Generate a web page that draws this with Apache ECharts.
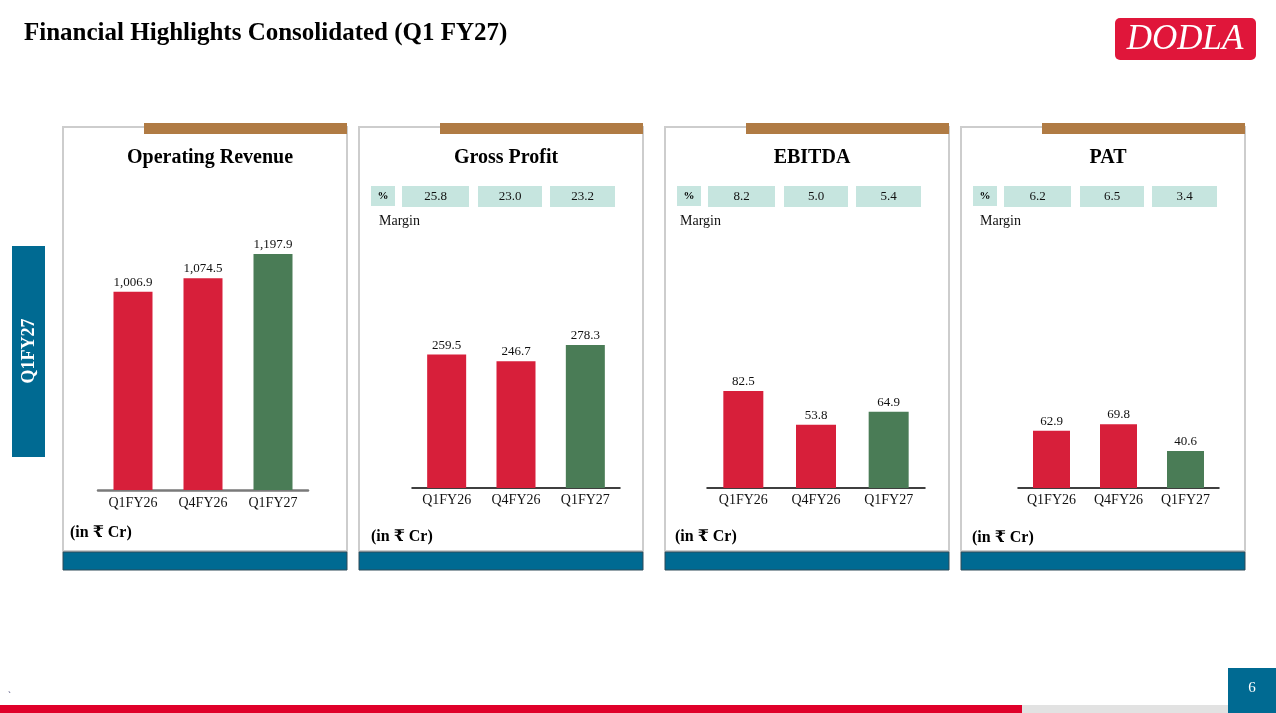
<!DOCTYPE html>
<html>
<head>
<meta charset="utf-8">
<script src="https://cdn.jsdelivr.net/npm/echarts@6/dist/echarts.min.js"></script>
<style>
  html, body { margin: 0; padding: 0; background: #fff; }
  #main { width: 1276px; height: 713px; }
</style>
</head>
<body>
<div id="main"></div>
<script>
// data
var categories = ['Q1FY26', 'Q4FY26', 'Q1FY27'];
var operatingRevenue = [1006.9, 1074.5, 1197.9];
var grossProfit = [259.5, 246.7, 278.3];
var ebitda = [82.5, 53.8, 64.9];
var pat = [62.9, 69.8, 40.6];
var grossMargin = [25.8, 23.0, 23.2];
var ebitdaMargin = [8.2, 5.0, 5.4];
var patMargin = [6.2, 6.5, 3.4];
var panelTitles = ['Operating Revenue', 'Gross Profit', 'EBITDA', 'PAT'];

var SERIF = "'Liberation Serif', 'DejaVu Serif', 'Noto Sans', serif";
var RED = '#d71f3a', GREEN = '#4a7c56', BLUE = '#006a92', BROWN = '#b07b44', TEAL = '#c6e5df';

// panel layout
var panelX = [63, 359, 665, 961];
var panelW = 284;
var grids = [
  { left: 98, width: 210, top: 230, height: 260 },
  { left: 412, width: 208, top: 231, height: 257 },
  { left: 707, width: 218, top: 253, height: 235 },
  { left: 1018, width: 201, top: 260, height: 228 }
];
var yMax = [1320, 500, 200, 250];
var barW = [39, 39, 40, 37];
var values = [operatingRevenue, grossProfit, ebitda, pat];
var margins = [null, grossMargin, ebitdaMargin, patMargin];
var marginTextX = [0, 20, 15, 19];
var unitX = [7, 12, 10, 11];
var unitY = [533, 537, 537, 538];

function fmt(v) {
  return v.toLocaleString('en-US', { minimumFractionDigits: 1, maximumFractionDigits: 1 });
}

var graphics = [];

// title
graphics.push({ type: 'text', x: 24, y: 34, style: { text: 'Financial Highlights Consolidated (Q1 FY27)', font: 'bold 25px ' + SERIF, fill: '#000', textVerticalAlign: 'middle' } });

// logo
graphics.push({ type: 'rect', shape: { x: 1115, y: 18, width: 141, height: 42, r: 5 }, style: { fill: '#e0163a' } });
graphics.push({ type: 'text', x: 1185, y: 40, style: { text: 'DODLA', font: 'italic 35px ' + SERIF, fill: '#fff', textAlign: 'center', textVerticalAlign: 'middle' } });

// left tag
graphics.push({ type: 'rect', shape: { x: 12, y: 246, width: 33, height: 211 }, style: { fill: BLUE } });
graphics.push({ type: 'text', x: 29, y: 351, rotation: Math.PI / 2, style: { text: 'Q1FY27', font: 'bold 18px ' + SERIF, fill: '#fff', textAlign: 'center', textVerticalAlign: 'middle' } });

panelX.forEach(function (px, i) {
  graphics.push({ type: 'rect', z: -1, shape: { x: px, y: 127, width: panelW, height: 424 }, style: { fill: '#fff', stroke: '#cdcdcd', lineWidth: 2 } });
  graphics.push({ type: 'rect', shape: { x: px + 81, y: 123, width: panelW - 81, height: 11 }, style: { fill: BROWN } });
  graphics.push({ type: 'rect', shape: { x: px, y: 552, width: panelW, height: 18 }, style: { fill: BLUE, stroke: '#2e4a58', lineWidth: 1 } });
  graphics.push({ type: 'text', x: px + panelW / 2 + 5, y: 158, style: { text: panelTitles[i], font: 'bold 20px ' + SERIF, fill: '#000', textAlign: 'center', textVerticalAlign: 'middle' } });
  graphics.push({ type: 'text', x: px + unitX[i], y: unitY[i], style: { text: '(in \u20B9 Cr)', font: 'bold 16px ' + SERIF, fill: '#000', textVerticalAlign: 'middle' } });
  if (margins[i]) {
    graphics.push({ type: 'rect', shape: { x: px + 12, y: 186, width: 24, height: 20 }, style: { fill: TEAL } });
    graphics.push({ type: 'text', x: px + 24, y: 196, style: { text: '%', font: 'bold 11px ' + SERIF, fill: '#000', textAlign: 'center', textVerticalAlign: 'middle' } });
    var bx = [43, 119, 191], bw = [67, 64, 65];
    margins[i].forEach(function (m, j) {
      graphics.push({ type: 'rect', shape: { x: px + bx[j], y: 186, width: bw[j], height: 21 }, style: { fill: TEAL } });
      graphics.push({ type: 'text', x: px + bx[j] + bw[j] / 2, y: 197, style: { text: m.toFixed(1), font: '13px ' + SERIF, fill: '#111', textAlign: 'center', textVerticalAlign: 'middle' } });
    });
    graphics.push({ type: 'text', x: px + marginTextX[i], y: 221, style: { text: 'Margin', font: '14px ' + SERIF, fill: '#111', textVerticalAlign: 'middle' } });
  }
});

// footer
graphics.push({ type: 'rect', shape: { x: 0, y: 705, width: 1022, height: 8 }, style: { fill: '#e0002a' } });
graphics.push({ type: 'rect', shape: { x: 1022, y: 705, width: 206, height: 8 }, style: { fill: '#e2e2e2' } });
graphics.push({ type: 'rect', shape: { x: 1228, y: 668, width: 48, height: 45 }, style: { fill: BLUE } });
graphics.push({ type: 'text', x: 1252, y: 688, style: { text: '6', font: '15px ' + SERIF, fill: '#fff', textAlign: 'center', textVerticalAlign: 'middle' } });
graphics.push({ type: 'text', x: 8, y: 696, style: { text: '`', font: '9px ' + SERIF, fill: '#336', textVerticalAlign: 'middle' } });

var option = {
  backgroundColor: '#fff',
  animation: false,
  graphic: { elements: graphics },
  grid: grids.map(function (g) {
    return { left: g.left, top: g.top, width: g.width, height: g.height, containLabel: false, outerBoundsMode: 'none' };
  }),
  xAxis: grids.map(function (g, i) {
    return {
      type: 'category', gridIndex: i, data: categories,
      axisLine: { lineStyle: { color: i === 0 ? '#7a7a7a' : '#000', width: i === 0 ? 2.5 : 1.5 } },
      axisTick: { show: false },
      axisLabel: { fontFamily: SERIF, fontSize: 14, color: '#111', margin: i === 0 ? 6 : 5 }
    };
  }),
  yAxis: grids.map(function (g, i) {
    return { type: 'value', gridIndex: i, min: 0, max: yMax[i], show: false, splitLine: { show: false } };
  }),
  series: values.map(function (vals, i) {
    return {
      type: 'bar', xAxisIndex: i, yAxisIndex: i, barWidth: barW[i],
      data: vals,
      itemStyle: {
        color: function (p) { return p.dataIndex === vals.length - 1 ? GREEN : RED; }
      },
      label: {
        show: true, position: 'top', distance: 3,
        fontFamily: SERIF, fontSize: 13, color: '#111',
        formatter: function (p) { return fmt(p.value); }
      }
    };
  })
};

var chart = echarts.init(document.getElementById('main'));
chart.setOption(option);
</script>
</body>
</html>
